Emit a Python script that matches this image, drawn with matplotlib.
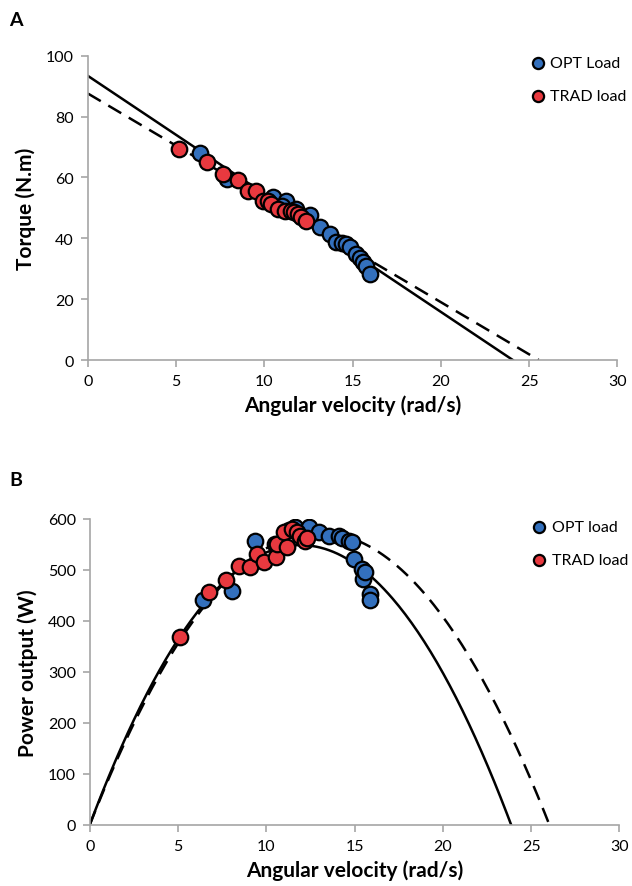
import numpy as np
import matplotlib
matplotlib.use("Agg")
import matplotlib.pyplot as plt

plt.rcParams['font.family'] = ['Lato', 'DejaVu Sans']

# panel A: torque vs angular velocity
opt_w_a = [6.38, 7.9, 10.47, 11.24, 11.0, 11.8, 12.56, 13.13, 13.7, 14.07, 14.4, 14.64,
           14.83, 15.2, 15.4, 15.6, 15.77, 15.96]
opt_t_a = [68.1, 59.5, 53.6, 52.4, 50.5, 49.5, 47.5, 43.6, 41.4, 38.7, 38.3, 38.2,
           37.0, 34.9, 33.5, 32.3, 31.0, 28.3]
trad_w_a = [5.15, 6.75, 7.66, 8.5, 9.07, 9.55, 9.92, 10.2, 10.4, 10.77, 11.15, 11.5,
            11.7, 11.9, 12.1, 12.37]
trad_t_a = [69.2, 65.2, 61.2, 59.3, 55.7, 55.4, 52.4, 52.4, 51.3, 49.7, 49.1, 49.1,
            48.5, 48.0, 47.0, 45.8]

# linear fits (intercept, slope)
opt_fit_a = (93.4, -3.88)
trad_fit_a = (87.6, -3.43)

# panel B: power vs angular velocity
opt_w_b = [6.39, 8.08, 9.36, 10.5, 11.3, 11.6, 12.4, 12.97, 13.54, 14.1, 14.3, 14.66,
           14.85, 14.95, 15.41, 15.5, 15.6, 15.9, 15.9]
opt_p_b = [440, 459, 557, 550, 578, 583, 584, 574, 567, 567, 562, 557,
           554, 521, 502, 482, 495, 453, 440]
trad_w_b = [5.13, 6.73, 7.74, 8.46, 9.08, 9.5, 9.87, 10.53, 10.62, 11.0, 11.19, 11.47,
            11.75, 11.9, 12.2, 12.3]
trad_p_b = [368, 456, 479, 508, 505, 530, 515, 525, 551, 575, 544, 580,
            574, 566, 557, 562]

# parabolic fits P = a*w - b*w^2
opt_fit_b = (91.9, 3.85)
trad_fit_b = (88.0, 3.38)

blue = '#3370BD'
red = '#E8393F'
gray = '#A6A6A6'


def style_axes(ax):
    for s in ['top', 'right']:
        ax.spines[s].set_visible(False)
    for s in ['left', 'bottom']:
        ax.spines[s].set_color(gray)
        ax.spines[s].set_linewidth(1.2)
    ax.tick_params(direction='out', length=5, width=1.2, color=gray,
                   labelsize=11.5, pad=5)
    ax.set_xlim(0, 30)
    ax.set_xticks([0, 5, 10, 15, 20, 25, 30])
    ax.set_xlabel('Angular velocity (rad/s)', fontsize=15, fontweight='bold', labelpad=5)


def add_legend(ax, y):
    ax.legend(loc='upper left', bbox_to_anchor=(0.834, y), frameon=False,
              markerscale=0.72, handlelength=1.0, handletextpad=0.3,
              labelspacing=1.2, fontsize=11.5, borderpad=0, borderaxespad=0)


fig = plt.figure(figsize=(6.32, 8.87), dpi=100)
ax1 = fig.add_axes([0.139, 0.593, 0.838, 0.343])
ax2 = fig.add_axes([0.142, 0.069, 0.838, 0.345])

# ---- A ----
w = np.linspace(0, -opt_fit_a[0] / opt_fit_a[1], 50)
ax1.plot(w, opt_fit_a[0] + opt_fit_a[1] * w, color='black', lw=1.8, zorder=1)
w = np.linspace(0, -trad_fit_a[0] / trad_fit_a[1], 50)
ax1.plot(w, trad_fit_a[0] + trad_fit_a[1] * w, color='black', lw=1.8,
         dashes=(6, 3.5), zorder=1)
ax1.scatter(opt_w_a, opt_t_a, s=125, c=blue, edgecolors='black', linewidths=1.6,
            zorder=2, label='OPT Load')
ax1.scatter(trad_w_a, trad_t_a, s=125, c=red, edgecolors='black', linewidths=1.6,
            zorder=3, label='TRAD load')
style_axes(ax1)
ax1.set_ylim(0, 100)
ax1.set_yticks([0, 20, 40, 60, 80, 100])
ax1.set_ylabel('Torque (N.m)', fontsize=15, fontweight='bold', labelpad=7)
add_legend(ax1, 1.0)

# ---- B ----
w = np.linspace(0, opt_fit_b[0] / opt_fit_b[1], 200)
ax2.plot(w, opt_fit_b[0] * w - opt_fit_b[1] * w ** 2, color='black', lw=1.8, zorder=1)
w = np.linspace(0, trad_fit_b[0] / trad_fit_b[1], 200)
ax2.plot(w, trad_fit_b[0] * w - trad_fit_b[1] * w ** 2, color='black', lw=1.8,
         dashes=(6, 3.5), zorder=1)
ax2.scatter(opt_w_b, opt_p_b, s=125, c=blue, edgecolors='black', linewidths=1.6,
            zorder=2, label='OPT load')
ax2.scatter(trad_w_b, trad_p_b, s=125, c=red, edgecolors='black', linewidths=1.6,
            zorder=3, label='TRAD load')
style_axes(ax2)
ax2.set_ylim(0, 600)
ax2.set_yticks([0, 100, 200, 300, 400, 500, 600])
ax2.set_ylabel('Power output (W)', fontsize=15, fontweight='bold', labelpad=7)
add_legend(ax2, 0.997)

fig.text(0.015, 0.977, 'A', fontsize=14, fontweight='bold', va='center')
fig.text(0.015, 0.458, 'B', fontsize=14, fontweight='bold', va='center')

fig.savefig('out.png', dpi=100)
